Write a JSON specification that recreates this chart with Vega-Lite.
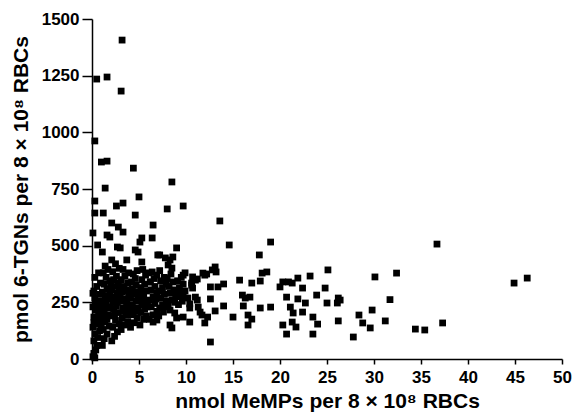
{
  "$schema": "https://vega.github.io/schema/vega-lite/v6.json",
  "width": 470,
  "height": 340,
  "autosize": {"type": "none"},
  "padding": {"left": 92, "top": 19, "right": 12, "bottom": 55},
  "background": "white",
  "config": {
    "view": {"stroke": null},
    "font": "Liberation Sans",
    "axis": {
      "domainColor": "black",
      "domainWidth": 1.5,
      "tickColor": "black",
      "tickWidth": 1.5,
      "grid": false,
      "labelColor": "black",
      "labelFont": "Liberation Sans",
      "labelFontWeight": "bold",
      "labelFontSize": 17,
      "titleFont": "Liberation Sans",
      "titleFontWeight": "bold",
      "titleFontSize": 21,
      "titleColor": "black"
    }
  },
  "data": {"values": [
    {"x":3.2,"y":1407},{"x":0.5,"y":1235},{"x":1.6,"y":1244},{"x":3.1,"y":1182},{"x":0.3,"y":962},{"x":1.0,"y":869},{"x":1.6,"y":873},{"x":4.4,"y":842},{"x":8.5,"y":781},{"x":1.4,"y":754},{"x":5.0,"y":715},{"x":0.3,"y":697},{"x":2.6,"y":675},{"x":3.3,"y":688},{"x":0.3,"y":644},{"x":1.2,"y":644},{"x":4.6,"y":635},{"x":8.0,"y":662},{"x":9.7,"y":675},{"x":2.1,"y":600},{"x":2.8,"y":582},{"x":3.3,"y":560},{"x":6.5,"y":591},{"x":0.1,"y":556},{"x":1.6,"y":547},{"x":1.9,"y":538},{"x":5.3,"y":534},{"x":5.1,"y":516},{"x":6.4,"y":534},{"x":0.6,"y":503},{"x":2.7,"y":494},{"x":3.0,"y":490},{"x":4.6,"y":481},{"x":4.9,"y":472},{"x":1.1,"y":472},{"x":9.0,"y":490},{"x":7.2,"y":459},{"x":7.8,"y":446},{"x":8.3,"y":437},{"x":8.6,"y":450},{"x":2.1,"y":437},{"x":3.7,"y":437},{"x":5.3,"y":428},{"x":8.1,"y":415},{"x":8.5,"y":401},{"x":7.0,"y":459},{"x":6.4,"y":384},{"x":6.9,"y":370},{"x":6.2,"y":340},{"x":9.7,"y":370},{"x":10.7,"y":362},{"x":10.6,"y":335},{"x":10.7,"y":313},{"x":8.8,"y":296},{"x":9.1,"y":282},{"x":9.7,"y":273},{"x":10.2,"y":269},{"x":7.2,"y":225},{"x":7.6,"y":207},{"x":8.3,"y":216},{"x":8.8,"y":203},{"x":9.7,"y":185},{"x":10.4,"y":163},{"x":6.5,"y":163},{"x":6.9,"y":172},{"x":8.3,"y":150},{"x":8.5,"y":137},{"x":9.0,"y":181},{"x":10.4,"y":225},
    {"x":13.6,"y":609},{"x":14.6,"y":503},{"x":19.0,"y":516},{"x":17.8,"y":459},{"x":13.1,"y":406},{"x":13.2,"y":384},{"x":12.8,"y":393},{"x":11.8,"y":379},{"x":12.0,"y":370},{"x":12.2,"y":375},{"x":11.2,"y":353},{"x":11.0,"y":348},{"x":10.6,"y":326},{"x":18.1,"y":379},{"x":18.6,"y":384},{"x":15.7,"y":348},{"x":17.0,"y":335},{"x":17.9,"y":344},{"x":12.6,"y":318},{"x":13.4,"y":318},{"x":14.0,"y":331},{"x":16.0,"y":282},{"x":16.3,"y":269},{"x":16.8,"y":273},{"x":11.0,"y":273},{"x":11.2,"y":260},{"x":12.6,"y":265},{"x":10.4,"y":243},{"x":11.3,"y":229},{"x":11.5,"y":207},{"x":14.0,"y":234},{"x":16.1,"y":234},{"x":13.1,"y":212},{"x":17.9,"y":225},{"x":19.0,"y":229},{"x":11.7,"y":194},{"x":12.3,"y":185},{"x":15.0,"y":185},{"x":16.6,"y":194},{"x":17.0,"y":176},{"x":16.6,"y":150},{"x":12.0,"y":159},{"x":12.6,"y":75},
    {"x":20.0,"y":318},{"x":20.3,"y":340},{"x":20.9,"y":340},{"x":21.3,"y":335},{"x":21.9,"y":357},{"x":22.4,"y":313},{"x":23.2,"y":366},{"x":25.1,"y":393},{"x":20.7,"y":273},{"x":21.9,"y":265},{"x":22.7,"y":247},{"x":23.9,"y":282},{"x":24.8,"y":313},{"x":21.1,"y":229},{"x":21.4,"y":203},{"x":22.4,"y":207},{"x":23.5,"y":185},{"x":24.0,"y":154},{"x":25.0,"y":247},{"x":26.1,"y":247},{"x":26.4,"y":260},{"x":26.2,"y":269},{"x":20.3,"y":150},{"x":21.3,"y":163},{"x":21.7,"y":141},{"x":20.7,"y":110},{"x":23.5,"y":110},{"x":26.2,"y":168},{"x":27.8,"y":97},{"x":28.4,"y":194},{"x":28.8,"y":159},{"x":29.6,"y":137},{"x":29.8,"y":216},{"x":30.1,"y":362},{"x":31.2,"y":168},{"x":31.7,"y":262},{"x":32.4,"y":379},{"x":36.7,"y":507},{"x":34.4,"y":132},{"x":35.4,"y":128},{"x":37.3,"y":159},{"x":44.9,"y":335},{"x":46.3,"y":357},
    {"x":0.1,"y":10},{"x":0.2,"y":25},{"x":0.3,"y":5},{"x":0.4,"y":40},{"x":0.5,"y":60},{"x":0.2,"y":80},{"x":0.6,"y":95},{"x":0.3,"y":110},{"x":0.8,"y":125},{"x":0.1,"y":140},{"x":0.5,"y":155},{"x":0.9,"y":170},{"x":0.2,"y":185},{"x":0.7,"y":200},{"x":0.4,"y":215},{"x":0.1,"y":230},{"x":0.9,"y":240},{"x":0.6,"y":255},{"x":0.3,"y":270},{"x":0.8,"y":285},{"x":0.2,"y":300},{"x":0.5,"y":320},{"x":0.9,"y":335},{"x":0.3,"y":360},{"x":0.7,"y":380},{"x":0.5,"y":230},{"x":0.8,"y":210},{"x":0.2,"y":160},{"x":1.0,"y":190},{"x":1.0,"y":150},{"x":0.6,"y":175},{"x":0.4,"y":250},{"x":0.1,"y":290},
    {"x":1.1,"y":60},{"x":1.3,"y":90},{"x":1.6,"y":110},{"x":1.2,"y":130},{"x":1.8,"y":145},{"x":1.4,"y":165},{"x":1.1,"y":185},{"x":1.7,"y":195},{"x":1.3,"y":210},{"x":1.9,"y":225},{"x":1.5,"y":240},{"x":1.2,"y":255},{"x":1.8,"y":265},{"x":1.4,"y":280},{"x":1.1,"y":295},{"x":1.6,"y":310},{"x":1.3,"y":330},{"x":1.9,"y":345},{"x":1.5,"y":360},{"x":1.2,"y":380},{"x":1.7,"y":395},{"x":1.4,"y":410},{"x":1.9,"y":290},{"x":1.6,"y":175},{"x":1.0,"y":240},{"x":1.8,"y":230},{"x":1.2,"y":220},
    {"x":2.1,"y":80},{"x":2.4,"y":100},{"x":2.7,"y":120},{"x":2.2,"y":140},{"x":2.9,"y":155},{"x":2.5,"y":170},{"x":2.1,"y":190},{"x":2.8,"y":205},{"x":2.3,"y":220},{"x":2.6,"y":235},{"x":2.2,"y":250},{"x":2.9,"y":260},{"x":2.4,"y":275},{"x":2.7,"y":290},{"x":2.1,"y":305},{"x":2.5,"y":320},{"x":2.8,"y":335},{"x":2.3,"y":350},{"x":2.6,"y":365},{"x":2.2,"y":385},{"x":2.9,"y":400},{"x":2.5,"y":420},{"x":2.7,"y":250},{"x":2.4,"y":195},{"x":2.9,"y":310},{"x":2.0,"y":330},
    {"x":3.1,"y":130},{"x":3.5,"y":150},{"x":3.8,"y":165},{"x":3.2,"y":180},{"x":3.6,"y":195},{"x":3.9,"y":210},{"x":3.3,"y":225},{"x":3.7,"y":240},{"x":3.1,"y":255},{"x":3.5,"y":265},{"x":3.9,"y":280},{"x":3.2,"y":295},{"x":3.6,"y":305},{"x":3.4,"y":320},{"x":3.8,"y":335},{"x":3.1,"y":350},{"x":3.5,"y":365},{"x":3.9,"y":380},{"x":3.3,"y":395},{"x":3.7,"y":250},{"x":3.0,"y":270},{"x":3.4,"y":210},{"x":3.8,"y":300},
    {"x":4.1,"y":140},{"x":4.5,"y":160},{"x":4.8,"y":180},{"x":4.2,"y":195},{"x":4.6,"y":210},{"x":4.9,"y":225},{"x":4.3,"y":240},{"x":4.7,"y":255},{"x":4.1,"y":270},{"x":4.5,"y":285},{"x":4.9,"y":295},{"x":4.3,"y":310},{"x":4.7,"y":325},{"x":4.2,"y":340},{"x":4.6,"y":355},{"x":4.4,"y":375},{"x":4.8,"y":390},{"x":4.0,"y":230},{"x":4.9,"y":265},{"x":4.4,"y":200},
    {"x":5.1,"y":150},{"x":5.5,"y":175},{"x":5.8,"y":190},{"x":5.2,"y":205},{"x":5.6,"y":220},{"x":5.3,"y":240},{"x":5.9,"y":255},{"x":5.1,"y":270},{"x":5.5,"y":285},{"x":5.8,"y":300},{"x":5.2,"y":315},{"x":5.6,"y":330},{"x":5.3,"y":350},{"x":5.7,"y":370},{"x":5.4,"y":395},{"x":5.9,"y":230},{"x":5.0,"y":290},{"x":5.5,"y":260},
    {"x":6.1,"y":175},{"x":6.5,"y":195},{"x":6.9,"y":210},{"x":6.3,"y":230},{"x":6.7,"y":245},{"x":6.1,"y":260},{"x":6.5,"y":275},{"x":6.9,"y":290},{"x":6.3,"y":305},{"x":6.7,"y":320},{"x":6.2,"y":340},{"x":6.6,"y":355},{"x":6.0,"y":380},{"x":6.8,"y":265},
    {"x":7.1,"y":190},{"x":7.5,"y":240},{"x":7.9,"y":255},{"x":7.3,"y":270},{"x":7.7,"y":285},{"x":7.1,"y":300},{"x":7.5,"y":315},{"x":7.9,"y":330},{"x":7.3,"y":345},{"x":7.7,"y":360},{"x":7.2,"y":390},{"x":7.8,"y":230},
    {"x":8.1,"y":240},{"x":8.5,"y":260},{"x":8.9,"y":275},{"x":8.3,"y":290},{"x":8.7,"y":305},{"x":8.2,"y":320},{"x":8.6,"y":340},{"x":8.0,"y":355},{"x":8.4,"y":375},{"x":8.8,"y":250},
    {"x":9.2,"y":240},{"x":9.6,"y":255},{"x":9.9,"y":300},{"x":9.3,"y":315},{"x":9.7,"y":330},{"x":9.1,"y":345},{"x":9.5,"y":360},{"x":9.9,"y":380},{"x":9.4,"y":290}
  ]},
  "mark": {"type": "point", "shape": "square", "filled": true, "size": 46, "color": "black", "opacity": 1},
  "encoding": {
    "x": {
      "field": "x", "type": "quantitative",
      "scale": {"domain": [0, 50], "nice": false, "zero": true},
      "axis": {"values": [0,5,10,15,20,25,30,35,40,45,50], "format": "d", "tickSize": 5, "labelPadding": 5, "titlePadding": 5, "title": "nmol MeMPs per 8 × 10⁸ RBCs", "labelFlush": false}
    },
    "y": {
      "field": "y", "type": "quantitative",
      "scale": {"domain": [0, 1500], "nice": false},
      "axis": {"values": [0,250,500,750,1000,1250,1500], "format": "d", "tickSize": 10, "labelPadding": 3, "titlePadding": 10, "title": "pmol 6-TGNs per 8 × 10⁸ RBCs", "labelFlush": false}
    }
  }
}
